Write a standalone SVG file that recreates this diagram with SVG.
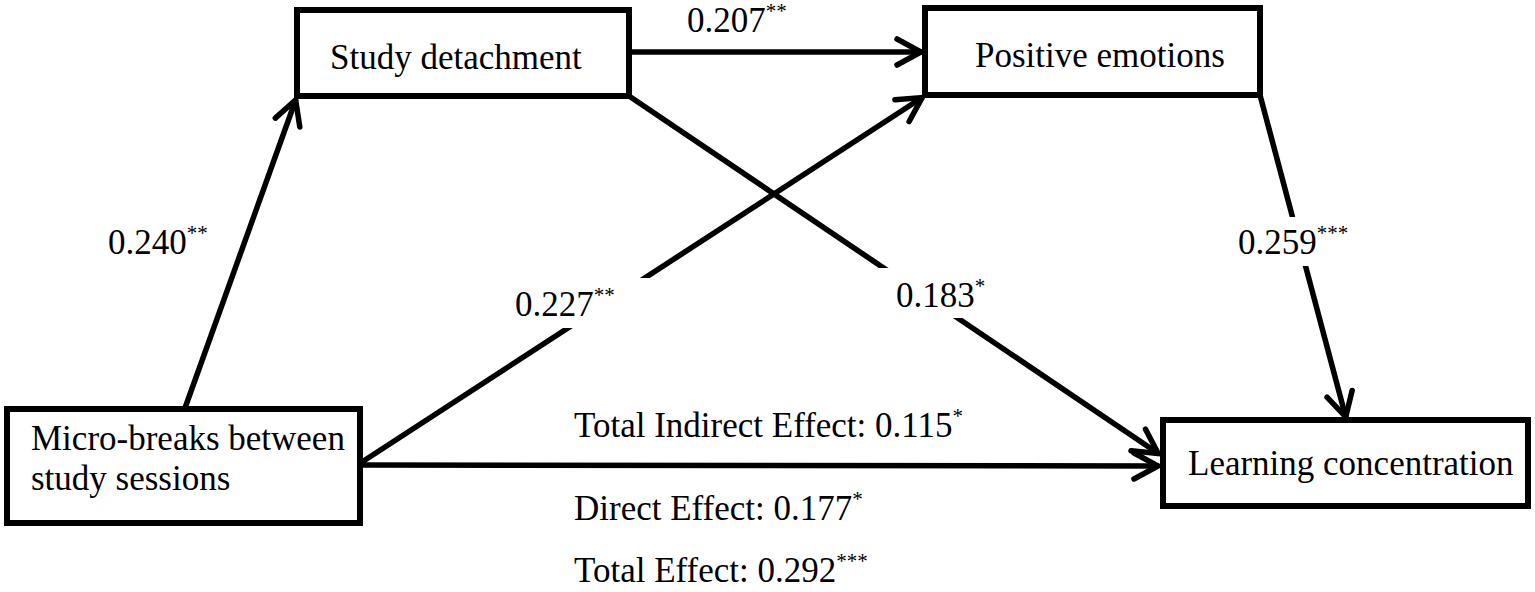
<svg xmlns="http://www.w3.org/2000/svg" width="1535" height="592" viewBox="0 0 1535 592">
  <style>
    .box { fill: #ffffff; stroke: #000000; stroke-width: 6; }
    .edge { stroke: #000000; stroke-width: 5.5; fill: none; marker-end: url(#arrow); }
    .lbl-bg { fill: #ffffff; stroke: none; }
    text { font-family: "Liberation Serif", "Times New Roman", serif; font-size: 35px; fill: #000000; }
    .sup { font-size: 21px; }
  </style>
  <defs>
    <marker id="arrow" markerUnits="userSpaceOnUse" viewBox="-6 -6 42 42" markerWidth="42" markerHeight="42" refX="26" refY="15" orient="auto">
      <path d="M1,2 L25,15 L1,28" fill="none" stroke="#000000" stroke-width="5.5" stroke-linecap="round" stroke-linejoin="miter"/>
    </marker>
  </defs>
  <rect width="1535" height="592" fill="#ffffff"/>

  <g id="connectors">
    <line class="edge" x1="185" y1="408" x2="296" y2="99"/>
    <line class="edge" x1="362" y1="462" x2="923" y2="97"/>
    <line class="edge" x1="629" y1="52" x2="922" y2="52"/>
    <line class="edge" x1="629" y1="96" x2="1159" y2="454"/>
    <line class="edge" x1="1260" y1="95" x2="1346" y2="418"/>
    <line class="edge" x1="362" y1="465" x2="1159" y2="466"/>
  </g>

  <g id="edge-labels">
    <text x="108" y="254">0.240<tspan class="sup" dy="-14">**</tspan></text>
    <text x="687" y="32">0.207<tspan class="sup" dy="-14">**</tspan></text>
    <rect class="lbl-bg" x="495" y="278" width="165" height="50"/>
    <text x="515" y="316">0.227<tspan class="sup" dy="-14">**</tspan></text>
    <rect class="lbl-bg" x="878" y="268" width="114" height="50"/>
    <text x="896" y="307">0.183<tspan class="sup" dy="-14">*</tspan></text>
    <rect class="lbl-bg" x="1228" y="217" width="90" height="49"/>
    <text x="1238" y="254">0.259<tspan class="sup" dy="-14">***</tspan></text>
    <text x="574" y="437">Total Indirect Effect: 0.115<tspan class="sup" dy="-14">*</tspan></text>
    <text x="574" y="520">Direct Effect: 0.177<tspan class="sup" dy="-14">*</tspan></text>
    <text x="574" y="582">Total Effect: 0.292<tspan class="sup" dy="-14">***</tspan></text>
  </g>

  <g id="node-study-detachment">
    <rect class="box" x="297" y="10" width="332" height="86"/>
    <text x="330" y="69">Study detachment</text>
  </g>

  <g id="node-positive-emotions">
    <rect class="box" x="925" y="8" width="335" height="87"/>
    <text x="975" y="67">Positive emotions</text>
  </g>

  <g id="node-micro-breaks">
    <rect class="box" x="7" y="409" width="353" height="114"/>
    <text x="31" y="450">Micro-breaks between</text>
    <text x="31" y="490">study sessions</text>
  </g>

  <g id="node-learning-concentration">
    <rect class="box" x="1163" y="420" width="365" height="86"/>
    <text x="1188" y="475">Learning concentration</text>
  </g>
</svg>
